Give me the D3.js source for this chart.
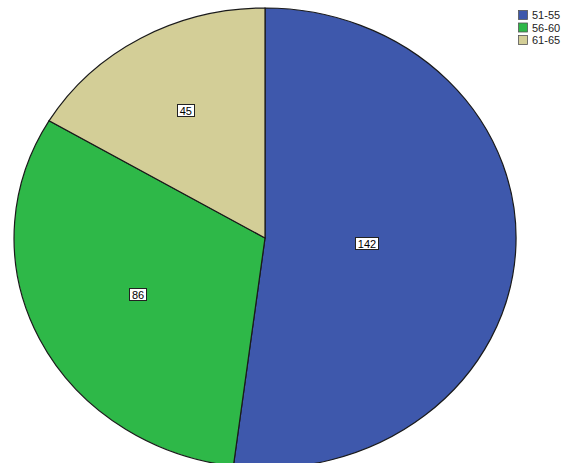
<!DOCTYPE html>
<html lang="en">
<head>
    <meta charset="UTF-8">
    <title>Pie chart</title>
    <script src="https://d3js.org/d3.v7.min.js"></script>
    <style>
        body { margin: 0; background: #fff; }
    </style>
</head>
<body>
    <div id="chart"></div>
    <script>
        // data
        const categories = ['51-55', '56-60', '61-65'];
        const counts = [142, 86, 45];
        const colors = ['#3E58AC', '#2EB848', '#D3CE97'];

        const width = 572;
        const height = 463;
        const cx = 265, cy = 238;
        const rx = 251, ry = 230;

        const svg = d3.select('#chart')
            .append('svg')
            .attr('width', width)
            .attr('height', height);

        const data = categories.map((c, i) => ({ cat: c, value: counts[i] }));

        const pie = d3.pie()
            .value(d => d.value)
            .sort(null);

        // unit circle, squashed to an ellipse
        const arc = d3.arc().innerRadius(0).outerRadius(1);
        const arcs = pie(data);

        const g = svg.append('g')
            .attr('transform', `translate(${cx},${cy}) scale(${rx},${ry})`);

        g.selectAll('path')
            .data(arcs)
            .join('path')
            .attr('d', arc)
            .attr('fill', (d, i) => colors[i])
            .attr('stroke', '#1a1a1a')
            .attr('stroke-width', 1.2)
            .attr('vector-effect', 'non-scaling-stroke');

        // labels at the area centroid of each slice
        const labels = svg.append('g');
        arcs.forEach(d => {
            const a = (d.endAngle - d.startAngle) / 2;
            const mid = (d.startAngle + d.endAngle) / 2;
            const r = 2 * Math.sin(a) / (3 * a);
            const x = cx + rx * r * Math.sin(mid);
            const y = cy - ry * r * Math.cos(mid);
            const t = labels.append('text')
                .attr('x', x)
                .attr('y', y)
                .attr('text-anchor', 'middle')
                .attr('dominant-baseline', 'central')
                .attr('font-family', 'Arial, Liberation Sans')
                .attr('font-size', '11px')
                .attr('fill', '#000')
                .text(d.data.value);
            const bb = t.node().getBBox();
            labels.insert('rect', 'text')
                .attr('x', Math.round(bb.x) - 2.5)
                .attr('y', Math.round(y) - 6.5)
                .attr('width', Math.round(bb.width) + 5)
                .attr('height', 12)
                .attr('fill', '#fff')
                .attr('stroke', '#222')
                .attr('stroke-width', 1);
        });

        // legend
        const legend = svg.append('g')
            .attr('transform', 'translate(518,10)');
        const item = legend.selectAll('g')
            .data(categories)
            .join('g')
            .attr('transform', (d, i) => `translate(0,${i * 12.5})`);
        item.append('rect')
            .attr('x', 0.5)
            .attr('y', 0.5)
            .attr('width', 9)
            .attr('height', 9)
            .attr('fill', (d, i) => colors[i])
            .attr('stroke', '#555')
            .attr('stroke-width', 0.8);
        item.append('text')
            .attr('x', 14)
            .attr('y', 5)
            .attr('dominant-baseline', 'central')
            .attr('font-family', 'Arial, Liberation Sans')
            .attr('font-size', '11px')
            .attr('fill', '#222')
            .text(d => d);
    </script>
</body>
</html>
